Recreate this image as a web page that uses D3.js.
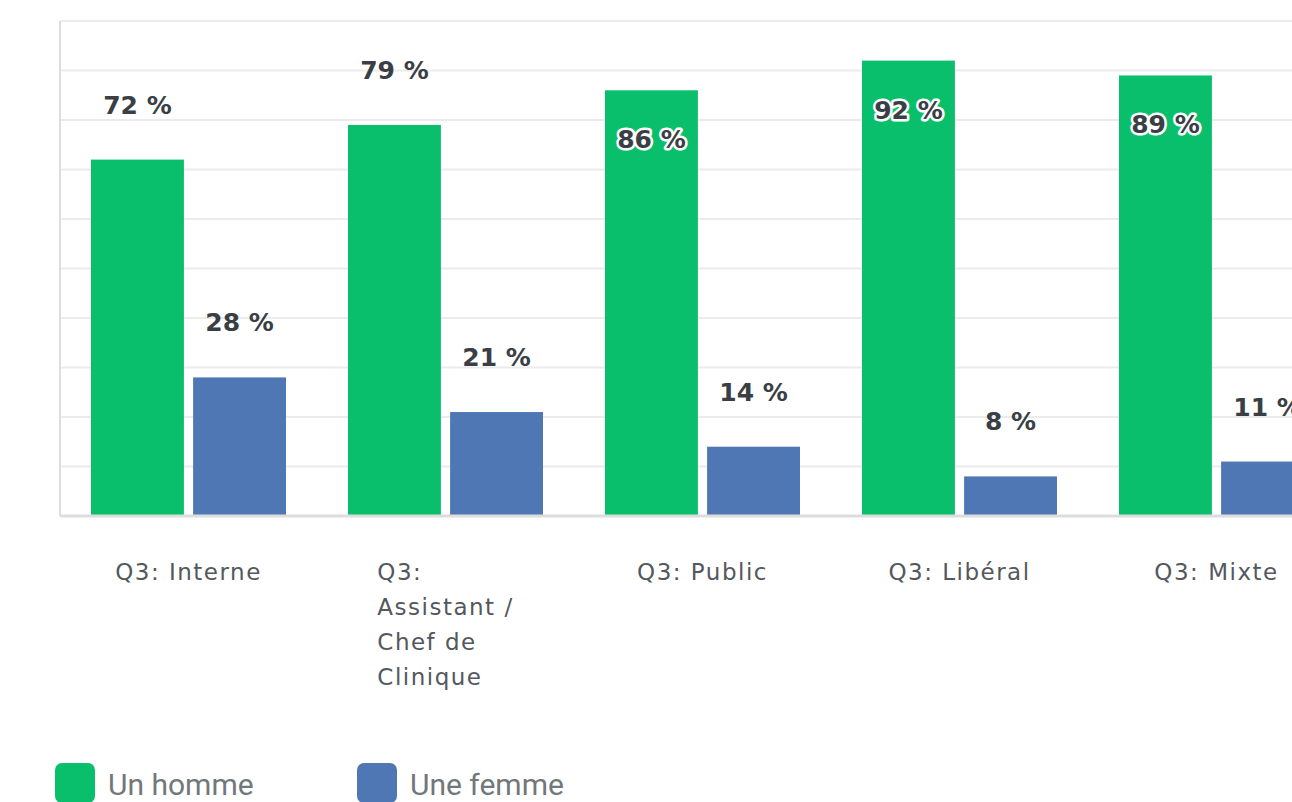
<!DOCTYPE html>
<html>
<head>
<meta charset="utf-8">
<script src="https://cdn.jsdelivr.net/npm/d3@7"></script>
<style>
  body { margin: 0; background: #fff; overflow: hidden; }
  svg { display: block; font-family: "DejaVu Sans", sans-serif; }
</style>
</head>
<body>
<div id="chart"></div>
<script>
// chart data
const categories = ["Q3: Interne", "Q3: Assistant / Chef de Clinique", "Q3: Public", "Q3: Libéral", "Q3: Mixte"];
const seriesNames = ["Un homme", "Une femme"];
const hommeValues = [72, 79, 86, 92, 89];
const femmeValues = [28, 21, 14, 8, 11];
const yTicks = [0, 10, 20, 30, 40, 50, 60, 70, 80, 90, 100];
const colors = ["#0abf6b", "#4e77b3"];

const W = 1292, H = 802;
const margin = { top: 21, left: 60, bottom: 286 };
const plotW = 1285;          // the plot runs past the right edge, like the source
const plotH = H - margin.top - margin.bottom;

const svg = d3.select("#chart").append("svg")
    .attr("width", W)
    .attr("height", H);

const g = svg.append("g")
    .attr("transform", `translate(${margin.left},${margin.top})`);

const x0 = d3.scaleBand()
    .domain(categories)
    .range([0, plotW])
    .paddingInner(0)
    .paddingOuter(0);

const x1 = d3.scaleBand()
    .domain(seriesNames)
    .range([31, x0.bandwidth() - 31])
    .paddingInner(0.09);

const y = d3.scaleLinear()
    .domain([0, 100])
    .range([plotH, 0]);

// gridlines
g.selectAll(".grid")
    .data(yTicks.filter(d => d > 0))
    .join("line")
    .attr("class", "grid")
    .attr("x1", 0)
    .attr("x2", plotW)
    .attr("y1", d => y(d))
    .attr("y2", d => y(d))
    .attr("stroke", "#ebebeb")
    .attr("stroke-width", 2);

// left axis line
g.append("line")
    .attr("x1", 0).attr("x2", 0)
    .attr("y1", y(100)).attr("y2", y(0))
    .attr("stroke", "#dedede")
    .attr("stroke-width", 2);

const rows = categories.map((c, i) => ({
    cat: c,
    vals: [
        { key: seriesNames[0], value: hommeValues[i] },
        { key: seriesNames[1], value: femmeValues[i] }
    ]
}));

const groups = g.selectAll(".grp")
    .data(rows)
    .join("g")
    .attr("class", "grp")
    .attr("transform", d => `translate(${x0(d.cat)},0)`);

groups.selectAll("rect")
    .data(d => d.vals)
    .join("rect")
    .attr("x", d => x1(d.key))
    .attr("width", x1.bandwidth())
    .attr("y", d => y(d.value))
    .attr("height", d => y(0) - y(d.value))
    .attr("fill", (d, i) => colors[i]);

// baseline
g.append("line")
    .attr("x1", 0).attr("x2", plotW)
    .attr("y1", y(0)).attr("y2", y(0))
    .attr("stroke", "#dddddd")
    .attr("stroke-width", 3);

// value labels: above the bar, or inside with a halo when the bar is tall
groups.selectAll(".val")
    .data(d => d.vals)
    .join("text")
    .attr("class", "val")
    .attr("x", d => x1(d.key) + x1.bandwidth() / 2)
    .attr("y", d => d.value > 80 ? y(d.value) + 58 : y(d.value) - 46)
    .attr("text-anchor", "middle")
    .attr("font-size", 25)
    .attr("font-weight", "bold")
    .attr("fill", "#3a3f45")
    .attr("stroke", d => d.value > 80 ? "#fff" : "none")
    .attr("stroke-width", 5)
    .attr("stroke-linejoin", "round")
    .attr("paint-order", "stroke")
    .text(d => d.value + " %");

// category labels, wrapped and left-aligned in a centered block
const catText = groups.append("text")
    .attr("font-size", 23)
    .attr("letter-spacing", 1.5)
    .attr("fill", "#53585d")
    .attr("y", y(0) + 64);

catText.each(function(d) {
    const t = d3.select(this);
    const words = d.cat.split(" ");
    const maxW = 172;
    let lines = [];
    let line = [];
    const probe = t.append("tspan");
    words.forEach(w => {
        const test = line.concat(w).join(" ");
        probe.text(test);
        if (line.length && probe.node().getComputedTextLength() > maxW) {
            lines.push(line.join(" "));
            line = [w];
        } else {
            line.push(w);
        }
    });
    lines.push(line.join(" "));
    probe.remove();
    const spans = t.selectAll("tspan")
        .data(lines)
        .join("tspan")
        .attr("dy", (l, i) => i === 0 ? 0 : 35)
        .text(l => l);
    let widest = 0;
    spans.each(function() { widest = Math.max(widest, this.getComputedTextLength()); });
    const left = x0.bandwidth() / 2 - widest / 2;
    spans.attr("x", left);
});

// legend
const legend = svg.append("g")
    .attr("transform", "translate(55,763)");

const items = legend.selectAll(".item")
    .data(seriesNames)
    .join("g")
    .attr("class", "item")
    .attr("transform", (d, i) => `translate(${i * 302},0)`);

items.append("rect")
    .attr("width", 40)
    .attr("height", 40)
    .attr("rx", 7)
    .attr("fill", (d, i) => colors[i]);

items.append("text")
    .attr("x", 53)
    .attr("y", 32)
    .attr("font-family", "Roboto, sans-serif")
    .attr("font-size", 30)
    .attr("font-weight", 400)
    .attr("fill", "#72777c")
    .text(d => d);
</script>
</body>
</html>
